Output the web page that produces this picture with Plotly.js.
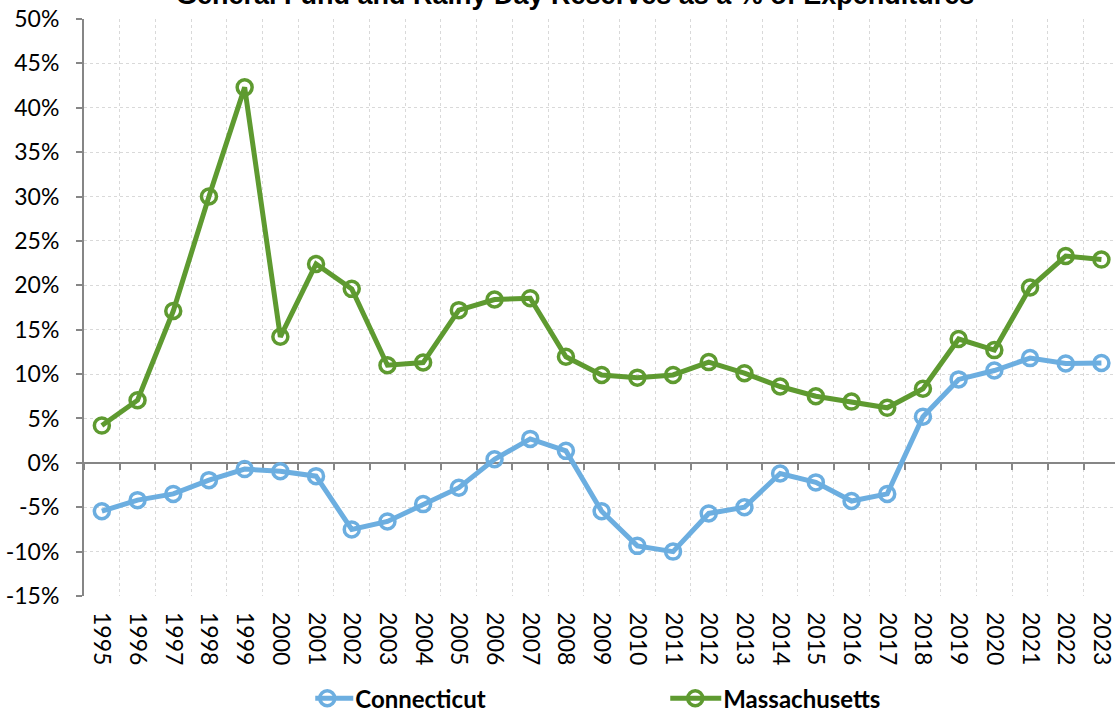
<!DOCTYPE html>
<html>
<head>
<meta charset="utf-8">
<script src="https://cdn.plot.ly/plotly-3.0.1.min.js"></script>
<style>
html,body{margin:0;padding:0;background:#fff;overflow:hidden;}
#chart{width:1115px;height:711px;}
</style>
</head>
<body>
<div id="chart"></div>
<script>
const years = [1995,1996,1997,1998,1999,2000,2001,2002,2003,2004,2005,2006,2007,2008,2009,2010,2011,2012,2013,2014,2015,2016,2017,2018,2019,2020,2021,2022,2023];
const connecticut = [-5.45,-4.2,-3.5,-1.95,-0.7,-0.95,-1.5,-7.5,-6.6,-4.65,-2.8,0.4,2.7,1.35,-5.45,-9.35,-10.0,-5.7,-5.0,-1.2,-2.2,-4.3,-3.5,5.2,9.4,10.4,11.8,11.2,11.25];
const massachusetts = [4.2,7.05,17.1,30.0,42.3,14.2,22.4,19.6,11.0,11.3,17.2,18.4,18.55,11.95,9.9,9.6,9.9,11.35,10.1,8.6,7.5,6.9,6.2,8.35,13.95,12.7,19.75,23.3,22.9];
const yTicks = [-15,-10,-5,0,5,10,15,20,25,30,35,40,45,50];
const yTickLabels = yTicks.map(v => v + '%');
const titleText = 'General Fund and Rainy Day Reserves as a % of Expenditures';
const seriesNames = ['Connecticut','Massachusetts'];
const seriesColors = ['#6CAEE0','#5E9A30'];

const boundaries = years.map(y => y - 0.5).concat([years[years.length-1] + 0.5]);
const xRange = [1994.5, 2023.38];

function series(i, vals){
  return {
    x: years, y: vals, name: seriesNames[i], type: 'scatter', mode: 'lines+markers',
    line: {color: seriesColors[i], width: 5},
    marker: {symbol: 'circle-open', size: 15, color: seriesColors[i], line: {color: seriesColors[i], width: 3.5}},
    cliponaxis: false
  };
}

const data = [
  series(0, connecticut),
  series(1, massachusetts),
  {x: [], y: [], xaxis: 'x2', showlegend: false, hoverinfo: 'skip', type: 'scatter'}
];

const gridCol = '#D9D9D9';
const axisCol = '#868686';

const layout = {
  width: 1115, height: 711,
  paper_bgcolor: '#fff', plot_bgcolor: '#fff',
  margin: {l: 84, r: 0, t: 19, b: 115, autoexpand: false},
  showlegend: true,
  annotations: [{
    text: '<b>' + titleText + '</b>', showarrow: false,
    font: {family: 'Liberation Sans, Arial, sans-serif', size: 27, color: '#000'},
    xref: 'paper', x: 0.4762, xanchor: 'center',
    yref: 'paper', y: 1.012, yanchor: 'bottom'
  }],
  xaxis: {
    range: xRange, tickmode: 'array', tickvals: years, ticktext: years.map(String),
    tickangle: 90, ticks: '', showgrid: false, zeroline: false, showline: false,
    ticklabelstandoff: 15, ticklabeloverflow: 'allow',
    tickfont: {family: 'Lato, sans-serif', size: 23, color: '#000'},
    minor: {tickmode: 'array', tickvals: boundaries, showgrid: true, gridcolor: gridCol, gridwidth: 1, griddash: 'dot', ticks: ''},
    fixedrange: true
  },
  xaxis2: {
    overlaying: 'x', anchor: 'free', position: 15/65, side: 'bottom',
    range: xRange, tickmode: 'array', tickvals: boundaries, showticklabels: false,
    ticks: 'outside', ticklen: 6, tickwidth: 2, tickcolor: axisCol,
    showline: true, linecolor: axisCol, linewidth: 2, showgrid: false, zeroline: false,
    layer: 'below traces'
  },
  yaxis: {
    range: [-15, 50], tickmode: 'array', tickvals: yTicks, ticktext: yTickLabels,
    ticks: 'outside', ticklen: 6, tickwidth: 2, tickcolor: axisCol,
    showline: true, linecolor: axisCol, linewidth: 2,
    showgrid: true, gridcolor: gridCol, gridwidth: 1, griddash: 'dot',
    zeroline: false, ticklabelstandoff: 12,
    tickfont: {family: 'Lato, sans-serif', size: 23, color: '#000'},
    fixedrange: true
  },
  legend: {
    orientation: 'h', x: 0.2243, xanchor: 'left', y: -0.178, yanchor: 'middle',
    entrywidth: 323, entrywidthmode: 'pixels',
    font: {family: 'Lato, sans-serif', size: 24, color: '#000', weight: 'bold'},
    bgcolor: 'rgba(0,0,0,0)'
  }
};

Plotly.newPlot('chart', data, layout, {displayModeBar: false, staticPlot: true}).then(function(gd){
  // lengthen legend symbol lines like the original (style only)
  gd.querySelectorAll('.legend .traces').forEach(function(t){
    t.querySelectorAll('.legendlines path').forEach(function(p){ p.setAttribute('d', 'M-13,0h51'); });
    t.querySelectorAll('.legendpoints path.scatterpts').forEach(function(p){ p.setAttribute('transform', 'translate(12,0)'); });
  });
});
</script>
</body>
</html>
